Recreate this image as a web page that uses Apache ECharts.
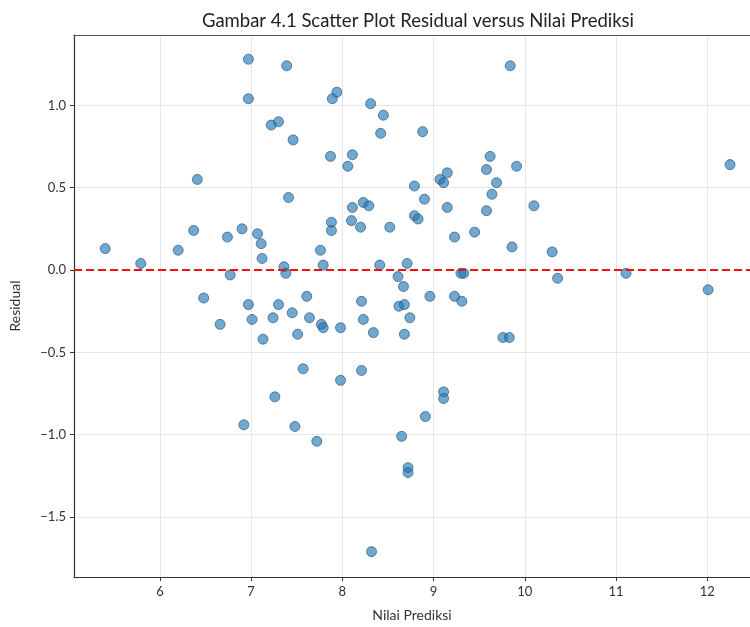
<!DOCTYPE html>
<html>
<head>
<meta charset="utf-8">
<script src="https://cdn.jsdelivr.net/npm/echarts@6/dist/echarts.min.js"></script>
<style>html,body{margin:0;padding:0;background:#fff;}#c{width:750px;height:627px;}</style>
</head>
<body>
<div id="c"></div>
<script>
const titleText = 'Gambar 4.1 Scatter Plot Residual versus Nilai Prediksi';
const xLabel = 'Nilai Prediksi';
const yLabel = 'Residual';

const predicted = [
  5.40, 5.79, 6.20, 6.37, 6.41, 6.48, 6.66, 6.74, 6.77, 6.90,
  6.92, 6.97, 6.97, 6.97, 7.01, 7.07, 7.11, 7.12, 7.13, 7.22,
  7.24, 7.26, 7.30, 7.30, 7.36, 7.38, 7.39, 7.41, 7.45, 7.46,
  7.48, 7.51, 7.57, 7.61, 7.64, 7.72, 7.76, 7.77, 7.79, 7.79,
  7.87, 7.88, 7.88, 7.89, 7.94, 7.98, 7.98, 8.06, 8.10, 8.11,
  8.11, 8.20, 8.21, 8.21, 8.23, 8.23, 8.29, 8.31, 8.32, 8.34,
  8.41, 8.42, 8.45, 8.52, 8.61, 8.62, 8.65, 8.67, 8.68, 8.68,
  8.71, 8.72, 8.72, 8.74, 8.79, 8.79, 8.83, 8.88, 8.90, 8.91,
  8.96, 9.07, 9.11, 9.11, 9.11, 9.15, 9.15, 9.23, 9.23, 9.30,
  9.31, 9.33, 9.45, 9.58, 9.58, 9.62, 9.64, 9.69, 9.76, 9.83,
  9.84, 9.86, 9.91, 10.10, 10.30, 10.36, 11.11, 12.01, 12.25
];
const residual = [
  0.13, 0.04, 0.12, 0.24, 0.55, -0.17, -0.33, 0.20, -0.03, 0.25,
  -0.94, 1.28, 1.04, -0.21, -0.30, 0.22, 0.16, 0.07, -0.42, 0.88,
  -0.29, -0.77, 0.90, -0.21, 0.02, -0.02, 1.24, 0.44, -0.26, 0.79,
  -0.95, -0.39, -0.60, -0.16, -0.29, -1.04, 0.12, -0.33, 0.03, -0.35,
  0.69, 0.29, 0.24, 1.04, 1.08, -0.35, -0.67, 0.63, 0.30, 0.70,
  0.38, 0.26, -0.19, -0.61, 0.41, -0.30, 0.39, 1.01, -1.71, -0.38,
  0.03, 0.83, 0.94, 0.26, -0.04, -0.22, -1.01, -0.10, -0.21, -0.39,
  0.04, -1.20, -1.23, -0.29, 0.51, 0.33, 0.31, 0.84, 0.43, -0.89,
  -0.16, 0.55, 0.53, -0.74, -0.78, 0.59, 0.38, 0.20, -0.16, -0.02,
  -0.19, -0.02, 0.23, 0.36, 0.61, 0.69, 0.46, 0.53, -0.41, -0.41,
  1.24, 0.14, 0.63, 0.39, 0.11, -0.05, -0.02, -0.12, 0.64
];
const refLineValue = [0];

const points = predicted.map((x, i) => [x, residual[i]]);
const FONT = 'Lato';
const fmtY = v => (v < 0 ? '\u2212' : '') + Math.abs(v).toFixed(1);
const fmtX = v => (v < 0 ? '\u2212' : '') + String(Math.abs(v));
const X_MIN = 5.058, X_MAX = 12.469;
const chart = echarts.init(document.getElementById('c'), null, {renderer: 'canvas'});
chart.setOption({
  animation: false,
  backgroundColor: '#ffffff',
  title: {
    text: titleText,
    left: 413,
    textAlign: 'center',
    top: 7,
    textStyle: {fontFamily: FONT, fontSize: 18.5, fontWeight: 'normal', color: '#222'}
  },
  grid: {left: 73, top: 35, right: 0, bottom: 50, show: false},
  xAxis: [{
    type: 'value',
    min: X_MIN, max: X_MAX,
    splitNumber: 7,
    name: xLabel, nameLocation: 'middle', nameGap: 31,
    nameTextStyle: {fontFamily: FONT, fontSize: 14, color: '#333'},
    axisLine: {show: true, onZero: false, lineStyle: {color: '#333', width: 1.2}},
    axisTick: {show: true, length: 4, lineStyle: {color: '#333'}},
    axisLabel: {fontFamily: FONT, fontSize: 13, color: '#333', margin: 8, showMinLabel: false, showMaxLabel: false, formatter: fmtX},
    splitLine: {show: true, lineStyle: {color: '#e6e6e6', width: 1}}
  }, {
    type: 'value', position: 'top',
    min: X_MIN, max: X_MAX,
    axisLine: {show: true, onZero: false, lineStyle: {color: '#555', width: 1.2}},
    axisTick: {show: false}, axisLabel: {show: false}, splitLine: {show: false}
  }],
  yAxis: {
    type: 'value',
    min: -1.864, max: 1.427,
    splitNumber: 5,
    name: yLabel, nameLocation: 'middle', nameGap: 52, nameRotate: 90,
    nameTextStyle: {fontFamily: FONT, fontSize: 14, color: '#333'},
    axisLine: {show: true, onZero: false, lineStyle: {color: '#333', width: 1.2}},
    axisTick: {show: true, length: 4, lineStyle: {color: '#333'}},
    axisLabel: {fontFamily: FONT, fontSize: 13, color: '#333', margin: 8, showMinLabel: false, showMaxLabel: false, formatter: fmtY},
    splitLine: {show: true, lineStyle: {color: '#e6e6e6', width: 1}}
  },
  series: [{
    type: 'scatter',
    data: points,
    symbolSize: 10,
    itemStyle: {color: 'rgba(31,119,180,0.8)', borderColor: 'rgba(45,85,125,0.85)', borderWidth: 1},
    markLine: {
      silent: true,
      symbol: 'none',
      label: {show: false},
      lineStyle: {color: '#ee1111', width: 2.2, type: [8, 4], opacity: 1},
      data: refLineValue.map(v => ({yAxis: v}))
    },
    z: 3
  }]
});
</script>
</body>
</html>
